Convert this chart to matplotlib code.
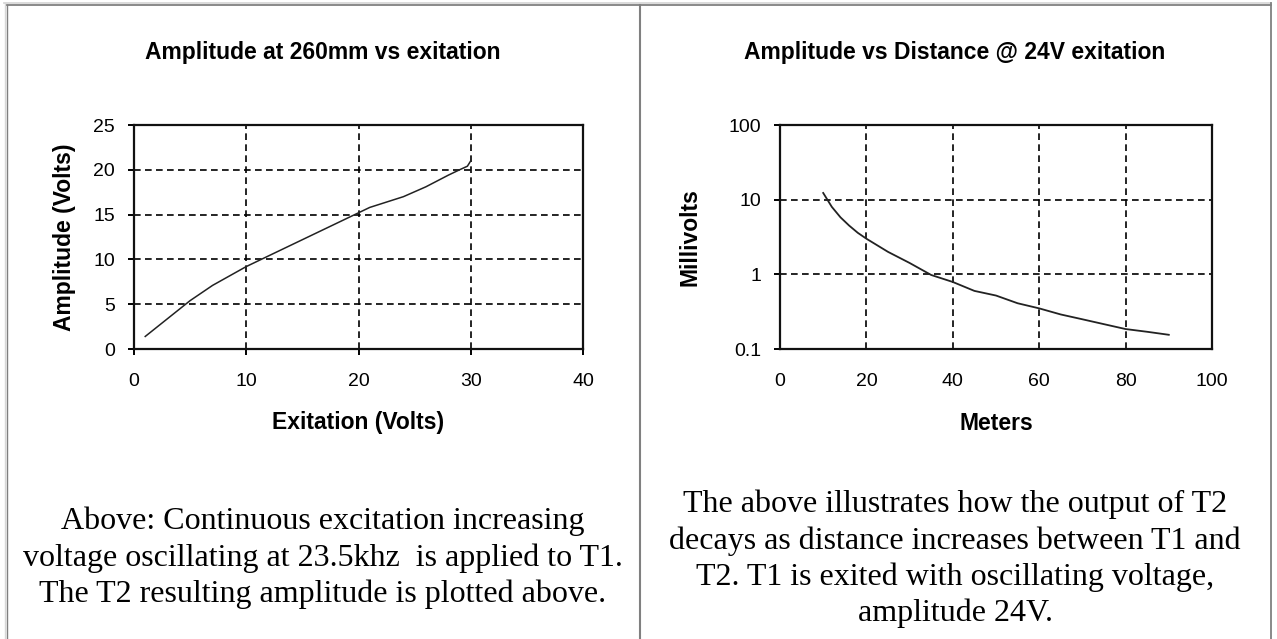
import matplotlib
matplotlib.use("Agg")
import matplotlib.pyplot as plt
from matplotlib.lines import Line2D
from matplotlib.ticker import FixedLocator, FixedFormatter, NullLocator

# left chart: amplitude at 260mm vs excitation
exc_volts = [1, 3, 5, 7, 10, 12, 15, 18, 20, 21, 22, 24, 26, 28, 29, 29.7, 30]
amp_volts = [1.4, 3.4, 5.4, 7.1, 9.2, 10.4, 12.2, 14.0, 15.2, 15.8, 16.2, 17.0, 18.1, 19.4, 20.0, 20.4, 21.0]

# right chart: amplitude vs distance @ 24V
dist_m = [10, 12, 14, 16, 18, 20, 25, 30, 35, 40, 45, 50, 55, 60, 65, 70, 75, 80, 85, 90]
amp_mv = [12.3, 8.0, 5.8, 4.5, 3.6, 3.0, 2.0, 1.42, 0.98, 0.79, 0.60, 0.52, 0.41, 0.35,
          0.29, 0.25, 0.215, 0.185, 0.17, 0.155]

left_title = "Amplitude at 260mm vs exitation"
right_title = "Amplitude vs Distance @ 24V exitation"
left_caption = ("Above: Continuous excitation increasing\n"
                "voltage oscillating at 23.5khz  is applied to T1.\n"
                "The T2 resulting amplitude is plotted above.")
right_caption = ("The above illustrates how the output of T2\n"
                 "decays as distance increases between T1 and\n"
                 "T2. T1 is exited with oscillating voltage,\n"
                 "amplitude 24V.")

W, H = 1277, 639
fig = plt.figure(figsize=(W / 100, H / 100), dpi=100)
fig.patch.set_facecolor("white")


def fx(x):
    return x / W


def fy(y):
    return 1 - y / H


# table borders
for (x0, y0, x1, y1, c, lw) in [
    (4, 3.2, 1271, 3.2, "#d8d8d8", 1.3),
    (6, 5.2, 1271, 5.2, "#808080", 1.3),
    (5.0, 3, 5.0, H, "#d8d8d8", 1.0),
    (6.6, 5, 6.6, H, "#808080", 1.0),
    (640, 5, 640, H, "#808080", 1.5),
    (1271, 3, 1271, H, "#808080", 1.3),
]:
    fig.add_artist(Line2D([fx(x0), fx(x1)], [fy(y0), fy(y1)], color=c, lw=lw))

bold = dict(family="Liberation Sans", weight="bold", fontsize=16.5)
tick_font = "Liberation Sans"
dash = (0, (4, 2.6))

ax1 = fig.add_axes([fx(134), fy(349), fx(583) - fx(134), fy(125) - fy(349)])
ax2 = fig.add_axes([fx(780), fy(349), fx(1212) - fx(780), fy(125) - fy(349)])

ax1.plot(exc_volts, amp_volts, color="#222222", lw=1.1, zorder=3)
ax1.set_xlim(0, 40)
ax1.set_ylim(0, 25)
ax1.set_xticks([0, 10, 20, 30, 40])
ax1.set_yticks([0, 5, 10, 15, 20, 25])

ax2.plot(dist_m, amp_mv, color="#222222", lw=1.3, zorder=3)
ax2.set_yscale("log")
ax2.set_xlim(0, 100)
ax2.set_ylim(0.1, 100)
ax2.set_xticks([0, 20, 40, 60, 80, 100])
ax2.yaxis.set_major_locator(FixedLocator([0.1, 1, 10, 100]))
ax2.yaxis.set_major_formatter(FixedFormatter(["0.1", "1", "10", "100"]))
ax2.yaxis.set_minor_locator(NullLocator())

for ax in (ax1, ax2):
    ax.grid(True, color="black", linestyle=dash, lw=1.2)
    ax.set_axisbelow(True)
    for s in ax.spines.values():
        s.set_linewidth(1.6)
        s.set_color("#111111")
    ax.tick_params(axis="y", direction="out", length=4.5, width=1.4, pad=9,
                   labelsize=14)
    for lab in ax.get_xticklabels() + ax.get_yticklabels():
        lab.set_family(tick_font)

ax1.tick_params(axis="x", direction="out", length=4.5, width=1.4, pad=13, labelsize=14)
ax2.tick_params(axis="x", length=0, pad=17.5, labelsize=14)
for lab in ax1.get_xticklabels() + ax2.get_xticklabels():
    lab.set_family(tick_font)

ax1.set_xlabel("Exitation (Volts)", va="center", **bold)
ax1.xaxis.set_label_coords(0.5, (H - 423 - (H - 349)) / 224)
ax1.set_ylabel("Amplitude (Volts)", va="center", **bold)
ax1.yaxis.set_label_coords((65 - 134) / 449, 0.5)

ax2.set_xlabel("Meters", va="center", **bold)
ax2.xaxis.set_label_coords(0.5, (H - 423 - (H - 349)) / 224)
ax2.set_ylabel("Millivolts", va="center", **bold)
ax2.yaxis.set_label_coords((690 - 780) / 432, 0.5)

fig.text(fx(323), fy(53), left_title, ha="center", va="center", **bold)
fig.text(fx(955), fy(53), right_title, ha="center", va="center", **bold)

serif = dict(family="Liberation Serif", fontsize=23, linespacing=1.3)
fig.text(fx(323), fy(558), left_caption, ha="center", va="center", **serif)
fig.text(fx(955), fy(559), right_caption, ha="center", va="center", **serif)

fig.savefig("out.png", dpi=100, facecolor="white")
